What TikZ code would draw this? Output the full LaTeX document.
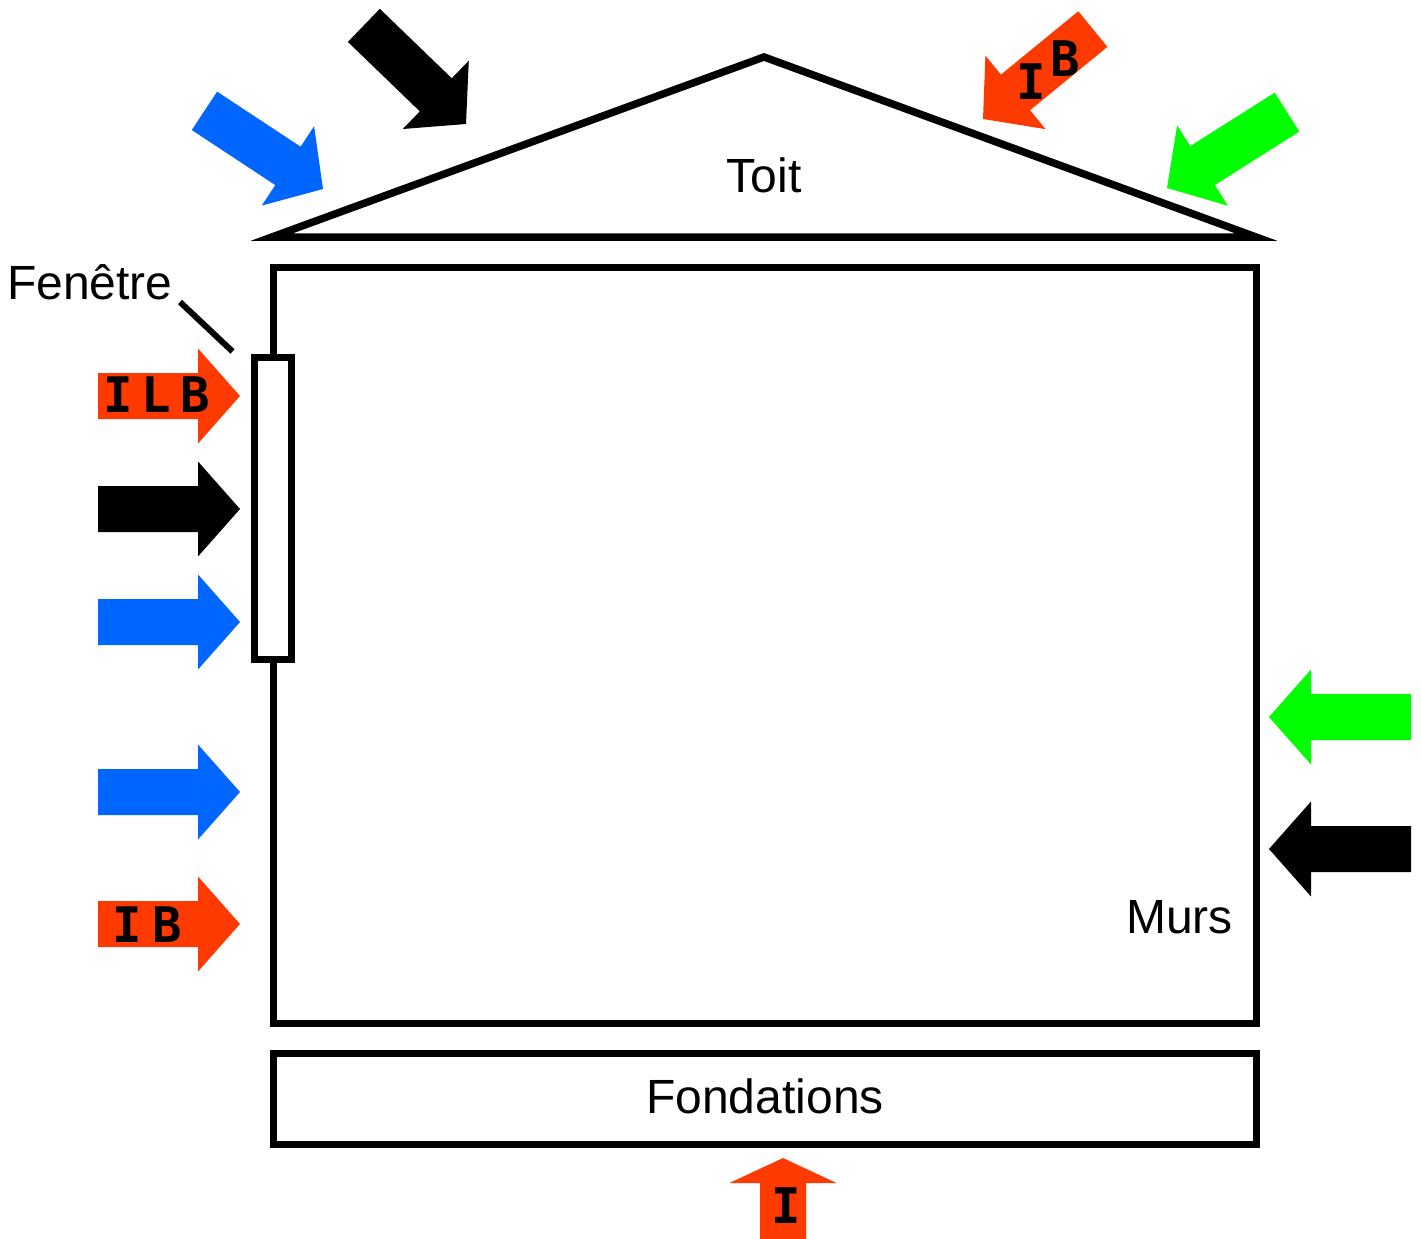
\documentclass[tikz,border=0pt]{standalone}
\usepackage{fontspec}
\setmainfont{Liberation Sans}
\newfontfamily\lettfont{DejaVu Sans Mono}
\definecolor{fred}{HTML}{FF3A00}
\definecolor{fblue}{HTML}{0066FF}
\definecolor{fgreen}{HTML}{00FF00}
\newcommand\flowarrow[3]{%
  \fill[#1, shift={(#2)}, rotate=#3] (0,0) -- (-42,47.5) -- (-42,23) -- (-142,23)
     -- (-142,-23) -- (-42,-23) -- (-42,-47.5) -- cycle;}
\begin{document}
\begin{tikzpicture}[x=1pt,y=1pt,
  wall/.style={draw=black, line width=7pt},
  label/.style={inner sep=0pt, font=\fontsize{48}{56}\selectfont},
  letter/.style={inner sep=0pt, font=\lettfont\bfseries\fontsize{49}{56}\selectfont}]
\useasboundingbox[fill=white] (0,0) rectangle (1421,-1239);

% roof
\draw[wall, line width=7.5pt, line join=miter] (764,-57) -- (272,-237) -- (1256,-237) -- cycle;
\node[label, anchor=base] (toit) at (764,-192) {Toit};

% walls
\draw[wall] (273,-267) rectangle (1256,-1023);
\node[label, anchor=base east] (murs) at (1233,-933) {Murs};

% window
\node[draw=black, fill=white, line width=7pt, minimum width=37pt, minimum height=302pt,
      inner sep=0pt] (win) at (272.5,-508) {};
\node[label, anchor=base west] (fen) at (7,-299) {Fenêtre};
\coordinate (fenend) at (180,-302);
\draw[line width=6pt] (fenend) -- ([xshift=-18pt,yshift=2pt]win.north west);

% foundations
\draw[wall] (273,-1053) rectangle (1256,-1144);
\node[label, anchor=base] (fond) at (765,-1113) {Fondations};

% left arrows
\flowarrow{fred}{240,-396}{0}
\flowarrow{black}{240,-509}{0}
\flowarrow{fblue}{240,-622}{0}
\flowarrow{fblue}{240,-792}{0}
\flowarrow{fred}{240,-924}{0}
\node[letter] (l1) at (118,-395) {I};
\node[letter] (l2) at (156,-395) {L};
\node[letter] (l3) at (195,-395) {B};
\node[letter] (m1) at (127,-925) {I};
\node[letter] (m2) at (167,-925) {B};

% right arrows
\flowarrow{fgreen}{1269,-717}{180}
\flowarrow{black}{1269,-849}{180}

% roof arrows
\flowarrow{fblue}{323,-189}{-33.4}
\flowarrow{black}{466,-124}{-44}
\flowarrow{fred}{983,-119}{219.3}
\flowarrow{fgreen}{1167,-188}{212.3}
\node[letter] (r1) at (1031,-82) {I};
\node[letter] (r2) at (1065,-59) {B};

% bottom arrow
\fill[fred] (783,-1158) -- (836.5,-1183) -- (806,-1183) -- (806,-1239) -- (760,-1239)
   -- (760,-1183) -- (729.5,-1183) -- cycle;
\node[letter] (b1) at (786,-1206) {I};
\end{tikzpicture}
\end{document}
